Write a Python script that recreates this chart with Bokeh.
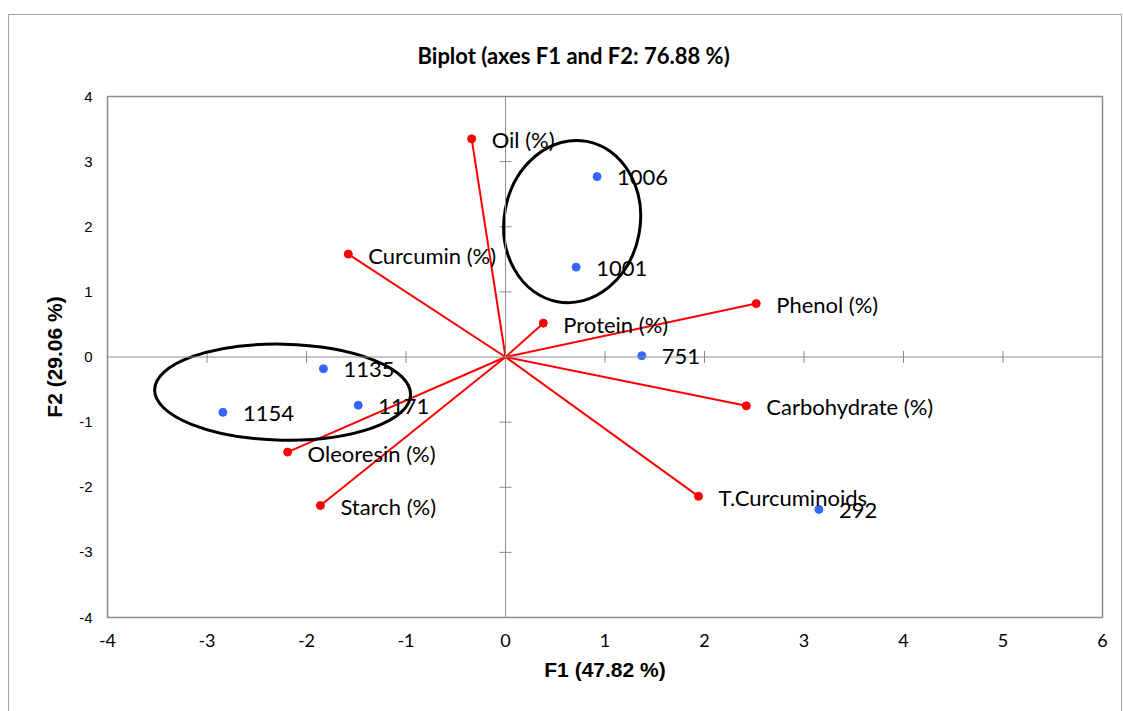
import math
from bokeh.plotting import figure
from bokeh.models import ColumnDataSource, LabelSet, Span, FixedTicker, PrintfTickFormatter
from bokeh.core.properties import value
from bokeh.embed import file_html
from bokeh.resources import INLINE

# ---- data ----
var_names = ["Oil (%)", "Curcumin (%)", "Phenol (%)", "Protein (%)", "Carbohydrate (%)",
             "T.Curcuminoids", "Oleoresin (%)", "Starch (%)"]
var_f1 = [-0.34, -1.58, 2.52, 0.38, 2.42, 1.94, -2.19, -1.86]
var_f2 = [3.35, 1.58, 0.82, 0.52, -0.75, -2.14, -1.46, -2.28]

obs_names = ["1006", "1001", "751", "292", "1135", "1171", "1154"]
obs_f1 = [0.92, 0.71, 1.37, 3.15, -1.83, -1.48, -2.84]
obs_f2 = [2.77, 1.38, 0.02, -2.34, -0.18, -0.74, -0.85]

x_ticks = [-4, -3, -2, -1, 0, 1, 2, 3, 4, 5, 6]
y_ticks = [-4, -3, -2, -1, 0, 1, 2, 3, 4]

title_text = "Biplot (axes F1 and F2: 76.88 %)"

# group ellipses (centre in F1/F2 units)
ell_x = [0.67, -2.24]
ell_y = [2.08, -0.54]

p = figure(width=1114, height=700, x_range=(-4, 6), y_range=(-4, 4),
           output_backend="svg", toolbar_location=None,
           min_border_left=98, min_border_right=21, min_border_top=81, min_border_bottom=98)
p.margin = (14, 0, 0, 8)
p.styles = {"border": "1px solid #a6a6a6"}

p.grid.visible = False
p.outline_line_color = "#8c8c8c"
p.outline_line_width = 1.5
p.background_fill_color = "white"
p.border_fill_color = "white"

# title
p.title.text = title_text
p.title.align = "left"
p.title.offset = 310
p.title.vertical_align = "top"
p.title.text_font = "Lato"
p.title.text_font_style = "bold"
p.title.text_font_size = "22px"
p.title.text_color = "black"
p.title.standoff = 52

# axes (labels only, outside)
p.xaxis.ticker = FixedTicker(ticks=x_ticks)
p.yaxis.ticker = FixedTicker(ticks=y_ticks)
for ax in (p.xaxis, p.yaxis):
    ax.formatter = PrintfTickFormatter(format="%d")
    ax.axis_line_color = None
    ax.major_tick_line_color = None
    ax.minor_tick_line_color = None
    ax.major_tick_out = 0
    ax.major_tick_in = 0
    ax.major_label_text_color = "black"
    ax.axis_label_text_font = "Liberation Sans"
    ax.axis_label_text_font_style = "bold"
    ax.axis_label_text_font_size = "21px"
    ax.axis_label_text_color = "black"
p.xaxis.major_label_text_font = "Lato"
p.xaxis.major_label_text_font_size = "18px"
p.yaxis.major_label_text_font = "Liberation Sans"
p.yaxis.major_label_text_font_size = "15px"
p.xaxis.axis_label = "F1 (47.82 %)"
p.yaxis.axis_label = "F2 (29.06 %)"
p.xaxis.major_label_standoff = 16
p.yaxis.major_label_standoff = 15
p.xaxis.axis_label_standoff = 8
p.yaxis.axis_label_standoff = 10

# centre axes
p.add_layout(Span(location=0, dimension="width", line_color="#8c8c8c", line_width=1))
p.add_layout(Span(location=0, dimension="height", line_color="#8c8c8c", line_width=1))
xt = [t for t in x_ticks if t != 0]
yt = [t for t in y_ticks if t != 0]
p.scatter(x=xt, y=[0] * len(xt), marker="dash", angle=math.pi / 2, size=12,
          line_color="#8c8c8c", line_width=1)
p.scatter(x=[0] * len(yt), y=yt, marker="dash", size=12,
          line_color="#8c8c8c", line_width=1)

# variable vectors
vsrc = ColumnDataSource(dict(x=var_f1, y=var_f2, name=var_names,
                             x0=[0] * len(var_f1), y0=[0] * len(var_f1)))
p.segment(x0="x0", y0="y0", x1="x", y1="y", source=vsrc, line_color="red", line_width=2)
p.scatter(x="x", y="y", source=vsrc, size=8, color="red")

osrc = ColumnDataSource(dict(x=obs_f1, y=obs_f2, name=obs_names))
p.scatter(x="x", y="y", source=osrc, size=8, color="#3366ff")

# ellipses
p.ellipse(x=ell_x, y=ell_y, width=[136, 256], height=[163, 96], angle=[-0.18, -0.02],
          width_units="screen", height_units="screen",
          fill_color=None, line_color="black", line_width=3)

for src in (vsrc, osrc):
    p.add_layout(LabelSet(x="x", y="y", text="name", source=src, x_offset=20, y_offset=-1,
                          text_font=value("Lato"), text_font_size="22px",
                          text_baseline="middle", text_color="black"))

open("out.html", "w").write(file_html(p, INLINE))
